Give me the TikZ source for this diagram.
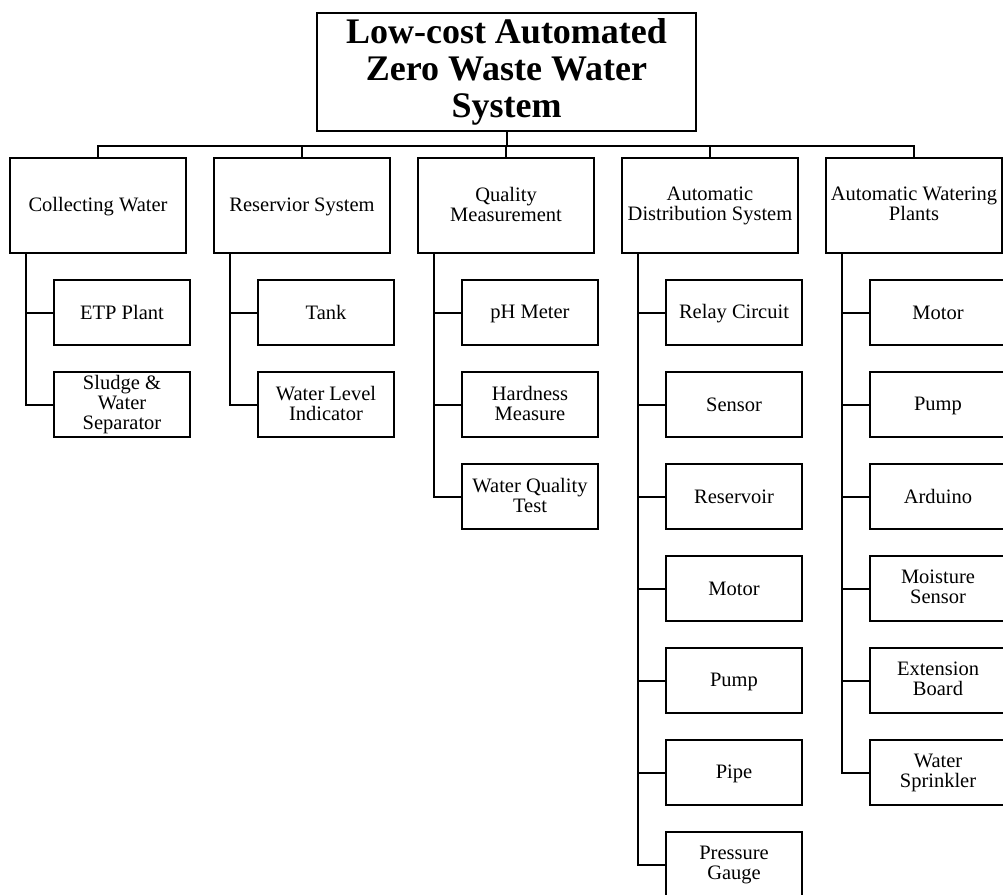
\documentclass[tikz,border=0pt]{standalone}
\usepackage{fontspec}
\setmainfont{Liberation Serif}
\usetikzlibrary{positioning}

\newcommand{\topstrut}{\rule{0pt}{16pt}}
\newcommand{\botstrut}{\rule[-3pt]{0pt}{3pt}}

\begin{document}
\begin{tikzpicture}[x=1pt, y=-1pt, line width=2pt,
    titlebox/.style={draw, minimum width=379pt, minimum height=118pt, inner sep=0pt, align=center, font=\fontsize{36}{37}\selectfont\bfseries},
    catbox/.style={draw, minimum width=176pt, minimum height=95pt, inner sep=0pt, align=center, font=\fontsize{20.5}{20}\selectfont, execute at begin node=\topstrut, execute at end node=\botstrut},
    itembox/.style={draw, minimum width=136pt, minimum height=65pt, inner sep=0pt, align=center, font=\fontsize{20.5}{20}\selectfont, execute at begin node=\topstrut, execute at end node=\botstrut}]
        \useasboundingbox (0,0) rectangle (1003,894);

        % Title
        \node[titlebox] (title) at (506.5,72) {Low-cost Automated\\Zero Waste Water\\System};

        % Categories
        \node[catbox] (collect) at (98,205.5) {Collecting Water};
        \node[catbox] (reserv) at (302,205.5) {Reservior System};
        \node[catbox] (quality) at (506,205.5) {Quality\\Measurement};
        \node[catbox] (distrib) at (710,205.5) {Automatic\\Distribution System};
        \node[catbox] (plants) at (914,205.5) {Automatic Watering\\Plants};

        % Bus
        \foreach \c in {collect, reserv, quality, distrib, plants}
            \draw (title.south) -- ++(0,14) -| (\c.north);

        % Items
        \foreach \txt [count=\k from 0] in {ETP Plant, {Sludge \&\\Water\\Separator}} {
            \node[itembox] (collect-\k) at (122,312.5+92*\k) {\txt};
            \draw ([xshift=17pt]collect.south west) |- (collect-\k.west);
        }
        \foreach \txt [count=\k from 0] in {Tank, {Water Level\\Indicator}} {
            \node[itembox] (reserv-\k) at (326,312.5+92*\k) {\txt};
            \draw ([xshift=17pt]reserv.south west) |- (reserv-\k.west);
        }
        \foreach \txt [count=\k from 0] in {pH Meter, {Hardness\\Measure}, {Water Quality\\Test}} {
            \node[itembox] (quality-\k) at (530,312.5+92*\k) {\txt};
            \draw ([xshift=17pt]quality.south west) |- (quality-\k.west);
        }
        \foreach \txt [count=\k from 0] in {Relay Circuit, Sensor, Reservoir, Motor, Pump, Pipe, {Pressure\\Gauge}} {
            \node[itembox] (distrib-\k) at (734,312.5+92*\k) {\txt};
            \draw ([xshift=17pt]distrib.south west) |- (distrib-\k.west);
        }
        \foreach \txt [count=\k from 0] in {Motor, Pump, Arduino, {Moisture\\Sensor}, {Extension\\Board}, {Water\\Sprinkler}} {
            \node[itembox] (plants-\k) at (938,312.5+92*\k) {\txt};
            \draw ([xshift=17pt]plants.south west) |- (plants-\k.west);
        }
    \end{tikzpicture}
\end{document}
